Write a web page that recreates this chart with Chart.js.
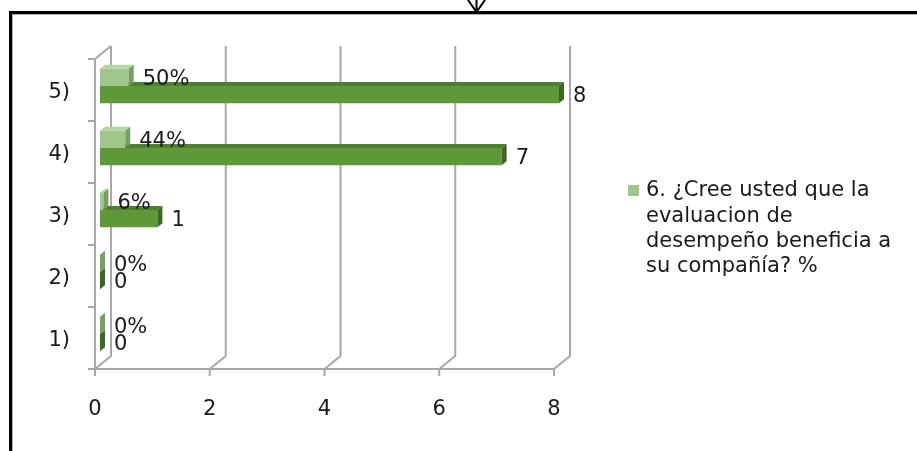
<!DOCTYPE html>
<html>
<head>
<meta charset="utf-8">
<script src="https://cdn.jsdelivr.net/npm/chart.js@4.4.1/dist/chart.umd.min.js"></script>
<style>
  html, body { margin: 0; padding: 0; background: #fff; }
  #wrap { position: relative; width: 917px; height: 451px; overflow: hidden; }
  #frame { position: absolute; left: 9px; top: 11px; right: -10px; bottom: -10px;
           border-top: 3px solid #000; border-left: 3px solid #000; }
  #frame::after { content: ''; position: absolute; left: 0; top: 0; right: 0; bottom: 0;
           border-top: 1px solid #b0b0b0; border-left: 1px solid #b0b0b0; }
  #arrow { position: absolute; left: 464px; top: 0; }
  #chart { position: absolute; left: 0; top: 0; }
</style>
</head>
<body>
<div id="wrap">
  <div id="frame"></div>
  <svg id="arrow" width="26" height="14">
    <path d="M4 0 L12.5 12 L21 0 M12.5 0 L12.5 12" stroke="#000" stroke-width="2" fill="none"/>
  </svg>
  <canvas id="chart" width="917" height="451"></canvas>
</div>
<script>
// categories listed top to bottom as they appear on the axis
const categories  = ['5)', '4)', '3)', '2)', '1)'];
const pctValues   = [0.50, 0.44, 0.06, 0, 0];
const countValues = [8, 7, 1, 0, 0];
const xTicks      = [0, 2, 4, 6, 8];
// series name, split where the legend wraps it
const seriesLines = ['6. ¿Cree usted que la', 'evaluacion de', 'desempeño beneficia a', 'su compañía? %'];
const seriesName  = seriesLines.join(' ');

const FONT = 'DejaVu Sans';
const FSIZE = 21;
const TXT  = '#1a1a1a';
const WALL = '#a8a8a8';
const WALL_D = [16, -13];   // depth of the back wall
const BAR_OFF = [5, -4];    // bars sit a little behind the front plane
const BAR_D = [5, -4];      // bar depth

const shades = [
  { front: '#9fc78b', top: '#b6d5a5', side: '#7a9d67' },
  { front: '#5e9838', top: '#4e7f2e', side: '#3d6624' }
];

function poly(ctx, pts, fill) {
  ctx.beginPath();
  ctx.moveTo(pts[0][0], pts[0][1]);
  for (let i = 1; i < pts.length; i++) ctx.lineTo(pts[i][0], pts[i][1]);
  ctx.closePath();
  ctx.fillStyle = fill;
  ctx.fill();
}

// 3D walls, floor edge and tick stubs
const walls = {
  id: 'walls',
  beforeDatasetsDraw(chart) {
    const { ctx, chartArea: a, scales: { x } } = chart;
    const [dx, dy] = WALL_D;
    ctx.save();
    ctx.strokeStyle = WALL;
    ctx.lineWidth = 2;
    ctx.beginPath();
    xTicks.forEach(v => {
      const px = x.getPixelForValue(v);
      ctx.moveTo(px, a.bottom + 7);
      ctx.lineTo(px, a.bottom);
      ctx.lineTo(px + dx, a.bottom + dy);
      ctx.lineTo(px + dx, a.top + dy);
    });
    // left wall front edge and top
    ctx.moveTo(a.left, a.bottom);
    ctx.lineTo(a.left, a.top);
    ctx.lineTo(a.left + dx, a.top + dy);
    // floor front edge
    ctx.moveTo(a.left - 7, a.bottom);
    ctx.lineTo(a.right, a.bottom);
    // category boundary ticks
    const step = (a.bottom - a.top) / categories.length;
    for (let i = 0; i < categories.length; i++) {
      const py = a.top + i * step;
      ctx.moveTo(a.left - 7, py);
      ctx.lineTo(a.left, py);
    }
    ctx.stroke();
    ctx.restore();
  },
  beforeDatasetDraw(chart) {
    chart.ctx.save();
    chart.ctx.translate(BAR_OFF[0], BAR_OFF[1]);
  },
  afterDatasetDraw(chart, args) {
    const ctx = chart.ctx;
    const c = shades[args.index];
    const [dx, dy] = BAR_D;
    args.meta.data.forEach(el => {
      const p = el.getProps(['x', 'y', 'base', 'height'], true);
      const t = p.y - p.height / 2, b = p.y + p.height / 2;
      poly(ctx, [[p.base, t], [p.x, t], [p.x + dx, t + dy], [p.base + dx, t + dy]], c.top);
      poly(ctx, [[p.x, t], [p.x + dx, t + dy], [p.x + dx, b + dy], [p.x, b]], c.side);
    });
    ctx.restore();
  },
  afterDatasetsDraw(chart) {
    const ctx = chart.ctx;
    ctx.save();
    ctx.font = FSIZE + 'px ' + FONT;
    ctx.fillStyle = TXT;
    ctx.textAlign = 'left';
    ctx.textBaseline = 'middle';
    chart.data.datasets.forEach((ds, i) => {
      chart.getDatasetMeta(i).data.forEach((el, j) => {
        const v = ds.data[j];
        const txt = i === 0 ? Math.round(v * 100) + '%' : String(v);
        ctx.fillText(txt, el.x + BAR_OFF[0] + BAR_D[0] + 9, el.y + BAR_OFF[1] + 2);
      });
    });
    ctx.restore();
  },
  afterDraw(chart) {
    // legend: only the percentage series
    const ctx = chart.ctx;
    ctx.save();
    ctx.font = FSIZE + 'px ' + FONT;
    ctx.fillStyle = shades[0].front;
    ctx.fillRect(628, 185, 11, 11);
    ctx.fillStyle = TXT;
    ctx.textBaseline = 'middle';
    seriesLines.forEach((l, k) => ctx.fillText(l, 646, 191 + k * 25.3));
    ctx.restore();
  }
};

new Chart(document.getElementById('chart'), {
  type: 'bar',
  data: {
    labels: categories,
    datasets: [
      { label: seriesName, data: pctValues, backgroundColor: shades[0].front },
      { label: 'Cantidad', data: countValues, backgroundColor: shades[1].front }
    ]
  },
  options: {
    indexAxis: 'y',
    responsive: false,
    animation: false,
    events: [],
    categoryPercentage: 0.56,
    barPercentage: 1,
    layout: { padding: { left: 0, top: 59, right: 363, bottom: 0 } },
    plugins: { legend: { display: false }, tooltip: { enabled: false } },
    scales: {
      x: {
        min: 0, max: 8,
        afterBuildTicks: s => { s.ticks = xTicks.map(v => ({ value: v })); },
        afterFit: s => { s.height = 82; },
        ticks: { font: { family: FONT, size: FSIZE }, color: TXT, padding: 28 },
        grid: { display: false, drawTicks: false },
        border: { display: false }
      },
      y: {
        afterFit: s => { s.width = 95; },
        ticks: { font: { family: FONT, size: FSIZE }, color: TXT, padding: 25, labelOffset: 3 },
        grid: { display: false, drawTicks: false },
        border: { display: false }
      }
    }
  },
  plugins: [walls]
});
</script>
</body>
</html>
